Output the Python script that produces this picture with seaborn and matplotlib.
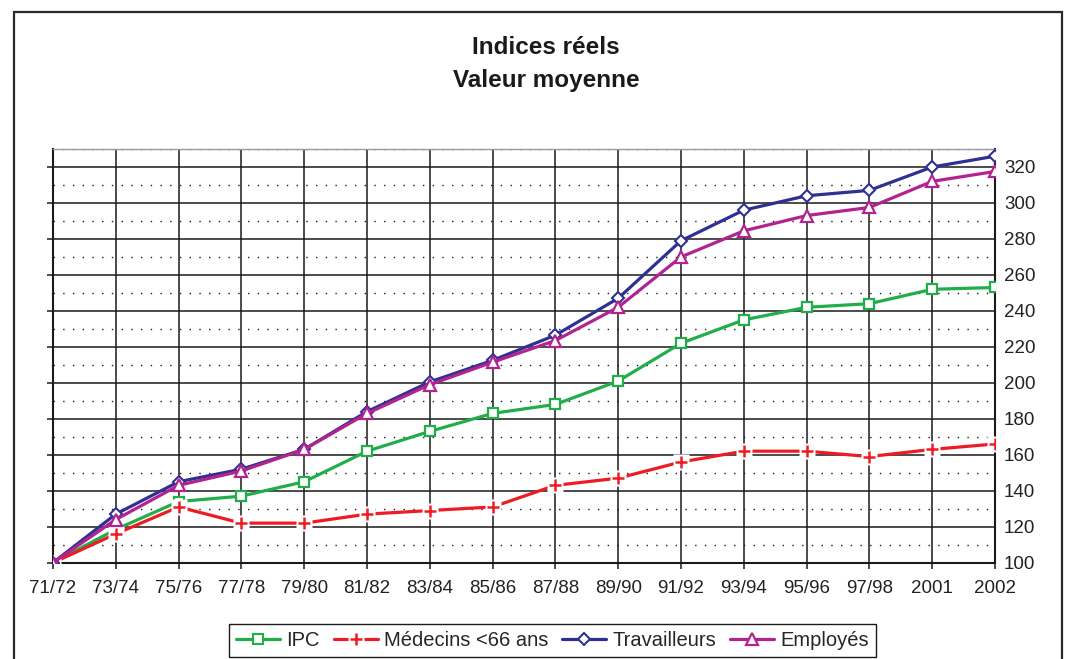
import numpy as np
import pandas as pd
import matplotlib
matplotlib.use('Agg')
import matplotlib.pyplot as plt
import seaborn as sns
from matplotlib.lines import Line2D
from matplotlib.patches import Rectangle
from matplotlib.ticker import MultipleLocator

periodes = ['71/72', '73/74', '75/76', '77/78', '79/80', '81/82', '83/84', '85/86',
            '87/88', '89/90', '91/92', '93/94', '95/96', '97/98', '2001', '2002']
ipc = [100, 118.5, 134, 137, 145, 162, 173, 183, 188, 201, 222, 235, 242, 244, 252, 253]
medecins = [100, 116, 131, 122, 122, 127, 129, 131, 143, 147, 156, 162, 162, 159, 163, 166]
travailleurs = [100, 127, 145, 152, 163, 184, 200.5, 212.5, 226.5, 247, 279, 296, 304, 307, 320, 326]
employes = [100, 124, 143, 151, 163, 183, 199, 211.5, 223.5, 242, 270, 284.5, 293, 297.5, 312, 317.5]

sns.set_theme(style='white')
plt.rcParams['font.family'] = ['Liberation Sans', 'DejaVu Sans']

df = pd.DataFrame({
    'pos': np.arange(len(periodes)),
    'periode': periodes,
    'IPC': ipc,
    'Medecins': medecins,
    'Travailleurs': travailleurs,
    'Employes': employes,
})

vert = '#22ad4b'
rouge = '#ed1c24'
bleu = '#2e3192'
magenta = '#b3238f'
noir = '#1a1a1a'

W, H = 1065, 659
fig = plt.figure(figsize=(W / 100, H / 100), dpi=100)
ax = fig.add_axes([53 / W, 1 - 562.7 / H, (995 - 53) / W, (562.7 - 149) / H])

# IPC
sns.lineplot(data=df, x='pos', y='IPC', ax=ax, color=vert, linewidth=2.3,
             marker='s', markersize=7.5, mfc='white', mec=vert, mew=1.6, zorder=3)

# Médecins : ligne, fond blanc, croix
sns.lineplot(data=df, x='pos', y='Medecins', ax=ax, color=rouge, linewidth=2.3, zorder=3)
ax.plot(df['pos'], df['Medecins'], ls='none', marker='s', ms=12, mfc='white', mec='none', zorder=3.1)
ax.plot(df['pos'], df['Medecins'], ls='none', marker='+', ms=8, mew=1.8, color=rouge, zorder=3.2)

# Travailleurs
sns.lineplot(data=df, x='pos', y='Travailleurs', ax=ax, color=bleu, linewidth=2.3,
             marker='D', markersize=6.5, mfc='white', mec=bleu, mew=1.5, zorder=4)

# Employés
sns.lineplot(data=df, x='pos', y='Employes', ax=ax, color=magenta, linewidth=2.3,
             marker='^', markersize=8, mfc='white', mec=magenta, mew=1.6, zorder=5)

ax.set_xlim(0, len(periodes) - 1)
ax.set_ylim(100, 330)
ax.set_xticks(df['pos'])
ax.set_xticklabels(periodes)
ax.yaxis.set_major_locator(MultipleLocator(20))
ax.yaxis.set_minor_locator(MultipleLocator(10))
ax.set_xlabel('')
ax.set_ylabel('')

ax.set_axisbelow(True)
ax.grid(axis='x', which='major', color=noir, lw=1.1)
ax.grid(axis='y', which='major', color=noir, lw=1.1)
ax.grid(axis='y', which='minor', color=noir, lw=1.0, ls=(0, (1, 6)))

ax.tick_params(axis='y', which='major', left=True, right=False, labelleft=False,
               labelright=True, length=4, width=1.1, pad=2.5, labelsize=13.5,
               direction='out', color=noir, labelcolor='#222222')
ax.tick_params(axis='y', which='minor', length=0)
ax.tick_params(axis='x', bottom=True, length=4.5, width=1.1, pad=8, labelsize=13.5,
               direction='out', color=noir, labelcolor='#222222')

for s in ['left', 'right', 'bottom']:
    ax.spines[s].set_color(noir)
    ax.spines[s].set_linewidth(1.5)
ax.spines['top'].set_color('#9a9a9a')
ax.spines['top'].set_linewidth(1.0)

# titre
fig.text(546 / W, 1 - 47 / H, 'Indices réels', ha='center', va='center',
         fontsize=17.5, fontweight='bold', color='#1a1a1a')
fig.text(546 / W, 1 - 80 / H, 'Valeur moyenne', ha='center', va='center',
         fontsize=17.5, fontweight='bold', color='#1a1a1a')

# légende
h_ipc = Line2D([], [], color=vert, lw=2.3, marker='s', ms=7, mfc='white', mec=vert, mew=1.5)
h_med = (Line2D([], [], color=rouge, lw=2.3),
         Line2D([], [], ls='none', marker='s', ms=12, mfc='white', mec='none'),
         Line2D([], [], ls='none', marker='+', ms=8, mew=1.8, color=rouge))
h_trav = Line2D([], [], color=bleu, lw=2.3, marker='D', ms=6, mfc='white', mec=bleu, mew=1.5)
h_emp = Line2D([], [], color=magenta, lw=2.3, marker='^', ms=8, mfc='white', mec=magenta, mew=1.6)

leg = fig.legend([h_ipc, h_med, h_trav, h_emp],
                 ['IPC', 'Médecins <66 ans', 'Travailleurs', 'Employés'],
                 loc='upper left', bbox_to_anchor=(229 / W, 1 - 624 / H), ncol=4,
                 frameon=True, fancybox=False, framealpha=1, edgecolor=noir,
                 fontsize=14.5, handlelength=2.2, columnspacing=0.68, handletextpad=0.3,
                 borderaxespad=0, borderpad=0.35)
leg.get_frame().set_linewidth(1.0)

# cadre extérieur
fig.patches.append(Rectangle((14 / W, -0.05), (1062 - 14) / W, 1 - 12 / H + 0.05,
                             transform=fig.transFigure, fill=False, lw=1.6,
                             ec='#2b2b2b', zorder=0))

fig.savefig('out.png', dpi=100)
